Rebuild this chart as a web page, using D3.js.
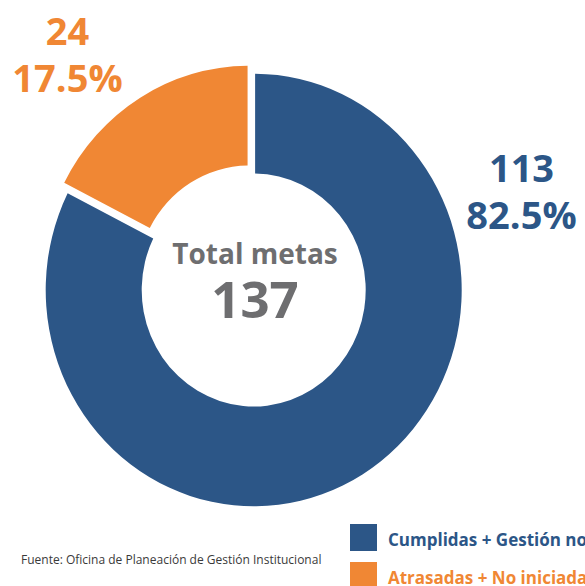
<html>
<head>
  <script src="https://d3js.org/d3.v7.min.js"></script>
  <style type="text/css">
  body { margin: 0; background: #fff; }
  text { font-family: "Open Sans", "Noto Sans", sans-serif; }
  </style>
</head>
<body>
<div id="viz"></div>
<script type="text/javascript">

const W = 585, H = 586;

const categories = ["Cumplidas + Gestión no", "Atrasadas + No iniciadas"];
const values = [113, 24];
const percents = ["82.5%", "17.5%"];
const totalLabel = "Total metas";
const source = "Fuente: Oficina de Planeación de Gestión Institucional";

const colors = ["#2c5687", "#f08734"];
const grey = "#6e6e70";

const total = d3.sum(values);

let svg = d3.select("#viz")
  .append("svg")
  .attr("width", W)
  .attr("height", H)
  .style("background-color", "#fff");

// ring is a bit taller than wide in the original
let ring = svg.append("g")
  .attr("transform", "translate(253.7,290) scale(1,1.04)");

let pie = d3.pie().sort(null).value(d => d);
let arcs = pie(values);

let arc = d3.arc()
  .innerRadius(112)
  .outerRadius(208)
  .padAngle(0.012);

const explode = 9;

ring.selectAll(".slice")
  .data(arcs)
  .enter().append("path")
  .attr("class", "slice")
  .attr("d", arc)
  .attr("fill", (d, i) => colors[i])
  .attr("transform", (d, i) => {
    if (i !== 1) return null;
    let a = (d.startAngle + d.endAngle) / 2;
    return `translate(${Math.sin(a) * explode},${-Math.cos(a) * explode})`;
  });

// value labels outside the ring
const labelPos = [[521.5, 181.5], [67.5, 45]];

arcs.forEach((d, i) => {
  let g = svg.append("text")
    .attr("text-anchor", "middle")
    .attr("fill", colors[i])
    .style("font-weight", 700)
    .style("font-size", "38px");
  g.append("tspan")
    .attr("x", labelPos[i][0])
    .attr("y", labelPos[i][1])
    .text(d.data);
  g.append("tspan")
    .attr("x", labelPos[i][0])
    .attr("y", labelPos[i][1] + 47)
    .text(percents[i]);
});

// centre label
let center = svg.append("text")
  .attr("text-anchor", "middle")
  .attr("fill", grey)
  .style("font-weight", 700);

center.append("tspan")
  .attr("x", 255)
  .attr("y", 264)
  .style("font-size", "28px")
  .text(totalLabel);

center.append("tspan")
  .attr("x", 255)
  .attr("y", 318)
  .style("font-size", "51px")
  .text(total);

svg.append("text")
  .attr("x", 21)
  .attr("y", 564)
  .attr("fill", "#3a3a3a")
  .style("font-size", "12px")
  .text(source);

// legend
let legend = svg.selectAll(".legend")
  .data(categories)
  .enter().append("g")
  .attr("class", "legend")
  .attr("transform", (d, i) => `translate(350,${524 + i * 38})`);

legend.append("rect")
  .attr("width", 27)
  .attr("height", 27)
  .attr("fill", (d, i) => colors[i]);

legend.append("text")
  .attr("x", 38)
  .attr("y", 22)
  .attr("fill", (d, i) => colors[i])
  .style("font-weight", 700)
  .style("font-size", "17px")
  .text(d => d);

</script>
</body>
</html>
